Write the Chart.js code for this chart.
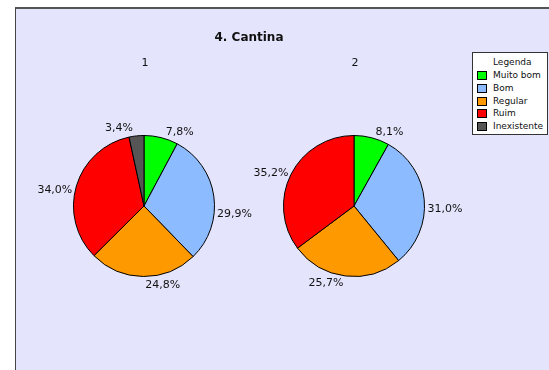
<!DOCTYPE html>
<html>
<head>
<meta charset="utf-8">
<script src="https://cdn.jsdelivr.net/npm/chart.js@4.4.0/dist/chart.umd.min.js"></script>
<style>
    body { margin: 0; width: 549px; height: 370px; background: #fff; overflow: hidden; position: relative; font-family: "DejaVu Sans", sans-serif; }
    #painel { position: absolute; left: 15px; top: 7px; width: 540px; height: 370px; background: #e4e4fc; border-left: 1px solid #444; border-top: 2px solid #555; }
    canvas { position: absolute; left: 0; top: 0; pointer-events: none; }
    .txt { position: absolute; transform: translate(-50%, -50%); white-space: nowrap; color: #111; }
    #titulo { left: 249px; top: 37px; font-weight: bold; font-size: 12px; }
    .sub { top: 62px; font-size: 11px; }
    #legenda { position: absolute; left: 472px; top: 52px; width: 76px; height: 83px; background: #fff; border: 1px solid #333; box-sizing: border-box; font-size: 9px; color: #111; white-space: nowrap; }
    #legenda .cab { position: absolute; left: 20px; top: 4px; }
    .leg-item { position: absolute; left: 4px; width: 70px; height: 12px; line-height: 12px; }
    .leg-cor { position: absolute; left: 0; top: 2px; width: 8px; height: 7px; border: 1px solid #000; }
    .leg-txt { position: absolute; left: 16px; top: 0; }
</style>
</head>
<body>
<div id="painel"></div>
<canvas id="grafPie1" width="549" height="370"></canvas>
<canvas id="grafPie2" width="549" height="370"></canvas>
<div class="txt" id="titulo">4. Cantina</div>
<div class="txt sub" id="sub1"></div>
<div class="txt sub" id="sub2"></div>
<div id="legenda"><div class="cab">Legenda</div></div>

<script>
// ===== DADOS =====
const categorias = ["Muito bom", "Bom", "Regular", "Ruim", "Inexistente"]
const serie1 = [7.8, 29.9, 24.8, 34.0, 3.4]
const serie2 = [8.1, 31.0, 25.7, 35.2, 0]
const nomesSeries = ["1", "2"]
const cores = ["#00ff00", "#8cbcff", "#ff9900", "#ff0000", "#555555"]

// rótulos fora da pizza, com pequeno ajuste de ângulo (graus) como no original
const rotulosPlugin = {
    id: "rotulos",
    afterDatasetsDraw(chart, args, opts) {
        const ctx = chart.ctx
        const meta = chart.getDatasetMeta(0)
        const valores = chart.data.datasets[0].data
        ctx.save()
        ctx.font = "11px 'DejaVu Sans'"
        ctx.fillStyle = "#111"
        ctx.textAlign = "center"
        ctx.textBaseline = "middle"
        meta.data.forEach(function(arc, i) {
            if (!valores[i]) return
            const p = arc.getProps(["x", "y", "startAngle", "endAngle", "outerRadius"], true)
            const ang = (p.startAngle + p.endAngle) / 2 + (opts.ajustes[i] || 0) * Math.PI / 180
            const txt = valores[i].toFixed(1).replace(".", ",") + "%"
            const w = ctx.measureText(txt).width
            const h = 15
            const cx = Math.cos(ang), sy = Math.sin(ang)
            const r = p.outerRadius + opts.folga
            ctx.fillText(txt, p.x + cx * r + cx * w / 2, p.y + sy * r + sy * h / 2)
        })
        ctx.restore()
    }
}

function criarPizza(id, dados, cx, cy, raio, ajustes) {
    const ctx = document.getElementById(id).getContext("2d")
    return new Chart(ctx, {
        type: "pie",
        data: {
            labels: categorias,
            datasets: [{
                data: dados,
                backgroundColor: cores,
                borderColor: "#000",
                borderWidth: 1
            }]
        },
        options: {
            responsive: false,
            animation: false,
            layout: {
                padding: { left: cx - raio, top: cy - raio, right: 549 - cx - raio, bottom: 370 - cy - raio }
            },
            plugins: {
                legend: { display: false },
                tooltip: { enabled: false },
                rotulos: { ajustes: ajustes, folga: 3 }
            }
        },
        plugins: [rotulosPlugin]
    })
}

criarPizza("grafPie1", serie1, 144, 206, 71, [10, 14, -12.4, -5, -10.5])
criarPizza("grafPie2", serie2, 354, 206, 71, [9.4, 7.5, 11, -2.6, 0])

document.getElementById("sub1").textContent = nomesSeries[0]
document.getElementById("sub1").style.left = "145px"
document.getElementById("sub2").textContent = nomesSeries[1]
document.getElementById("sub2").style.left = "355px"

const legenda = document.getElementById("legenda")
legenda.innerHTML += categorias.map((c, i) => `
    <div class="leg-item" style="top:${16 + i * 12.8}px">
        <div class="leg-cor" style="background:${cores[i]}"></div>
        <div class="leg-txt">${c}</div>
    </div>
`).join("")
</script>
</body>
</html>
